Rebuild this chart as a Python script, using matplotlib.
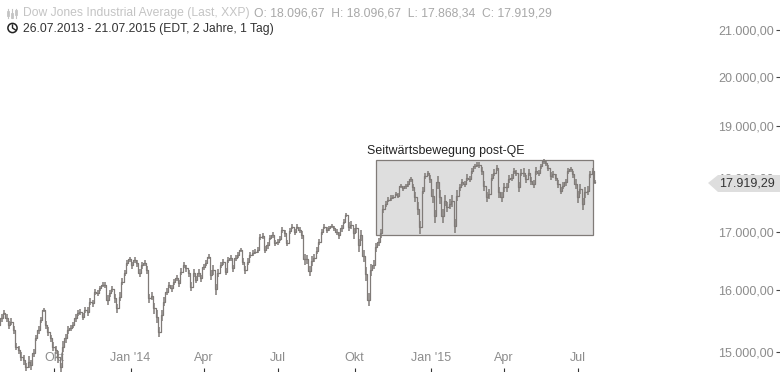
import matplotlib
matplotlib.use('Agg')
import matplotlib.pyplot as plt
import pandas as pd
from matplotlib.patches import Circle, Polygon, Rectangle
from matplotlib.lines import Line2D

plt.rcParams['font.family'] = ['Liberation Sans', 'DejaVu Sans']

# Dow Jones, every 3 days
start_date = '2013-07-26'
close_values = [
    15430, 15540, 15630, 15540, 15430, 15485, 15349, 15085, 15030, 14925,
    14870, 14770, 14845, 14795, 14980, 15215, 15349, 15510, 15673, 15430,
    15320, 15215, 15085, 15030, 14925, 14760, 15085, 15215, 15349, 15375,
    15430, 15540, 15620, 15645, 15565, 15673, 15645, 15810, 15783, 15977,
    15950, 16033, 16090, 16090, 15838, 15950, 16015, 15865, 15700, 15893,
    16145, 16285, 16455, 16525, 16425, 16515, 16455, 16285, 16425, 16455,
    16343, 15865, 15905, 15700, 15565, 15320, 15590, 15810, 15977, 16090,
    16033, 16145, 16200, 16117, 16315, 16425, 16370, 16285, 16060, 16285,
    16173, 16285, 16200, 16400, 16455, 16570, 16260, 16343, 16015, 16285,
    16425, 16485, 16315, 16515, 16545, 16370, 16545, 16600, 16689, 16485,
    16343, 16485, 16600, 16630, 16660, 16689, 16918, 16930, 16688, 16766,
    16905, 16948, 16808, 16827, 16887, 17038, 16978, 16808, 17026, 17099,
    17008, 17099, 17038, 16948, 16524, 16524, 16325, 16494, 16555, 16675,
    16827, 17008, 17099, 17038, 17069, 17111, 17069, 17008, 16948, 17069,
    17190, 17311, 17099, 17129, 16978, 17069, 16766, 16948, 16585, 16280,
    15840, 16345, 16433, 16735, 16827, 16978, 17420, 17512, 17591, 17615,
    17634, 17695, 17664, 17847, 17798, 17835, 17878, 17969, 17817, 17634,
    17420, 17084, 17756, 18030, 18079, 17969, 17664, 17286, 17908, 17634,
    17286, 17572, 17450, 17512, 17572, 17115, 17664, 17817, 17908, 17878,
    18000, 17969, 18121, 18213, 18243, 18243, 18121, 17847, 17634, 17695,
    18000, 18091, 18183, 17725, 17634, 17817, 17817, 17969, 18000, 18121,
    18091, 17817, 18091, 18091, 17969, 18091, 17939, 17878, 18121, 18091,
    18213, 18305, 18274, 18183, 18030, 18061, 18000, 17878, 17756, 17847,
    17908, 18121, 18152, 18061, 17878, 17634, 17786, 17512, 17725, 17756,
    18061, 18121, 17919,
]
# half of the day's high-low stick around each value
stick_sizes = [
    60, 70, 40, 60, 70, 60, 70, 50, 60, 70,
    80, 60, 90, 80, 60, 50, 60, 50, 40, 70,
    70, 60, 70, 60, 90, 70, 90, 70, 60, 50,
    50, 60, 50, 50, 60, 50, 70, 60, 60, 50,
    50, 40, 40, 50, 80, 60, 50, 70, 70, 70,
    60, 50, 50, 40, 60, 50, 60, 70, 60, 50,
    70, 80, 70, 90, 110, 80, 90, 70, 60, 50,
    60, 50, 50, 60, 60, 50, 60, 60, 80, 70,
    60, 70, 60, 50, 50, 40, 90, 80, 90, 70,
    50, 50, 60, 50, 50, 60, 50, 50, 40, 60,
    70, 60, 50, 50, 50, 50, 50, 50, 60, 60,
    50, 50, 60, 50, 50, 50, 60, 60, 50, 40,
    50, 50, 50, 70, 90, 80, 90, 80, 70, 60,
    50, 50, 40, 50, 50, 40, 50, 50, 60, 60,
    50, 40, 80, 70, 90, 80, 110, 100, 100, 120,
    110, 100, 80, 80, 70, 80, 70, 60, 50, 50,
    40, 40, 50, 40, 50, 50, 50, 50, 70, 90,
    120, 120, 70, 50, 50, 80, 130, 120, 130, 130,
    130, 100, 90, 90, 110, 130, 100, 70, 60, 60,
    60, 60, 50, 50, 50, 60, 70, 90, 90, 90,
    70, 70, 60, 100, 90, 80, 80, 70, 70, 60,
    60, 90, 70, 80, 70, 70, 70, 70, 70, 60,
    50, 50, 50, 60, 70, 70, 70, 70, 70, 70,
    60, 50, 50, 70, 90, 110, 100, 110, 100, 90,
    70, 50, 40,
]
dates = pd.date_range(start_date, periods=len(close_values), freq='3D')
stick_low = [v - s for v, s in zip(close_values, stick_sizes)]
stick_high = [v + s for v, s in zip(close_values, stick_sizes)]

y_ticks = [15000, 16000, 17000, 18000, 19000, 20000, 21000]
y_labels = ['15.000,00', '16.000,00', '17.000,00', '18.000,00',
            '19.000,00', '20.000,00', '21.000,00']
x_ticks = pd.to_datetime(['2013-10-01', '2014-01-02', '2014-04-01', '2014-07-01',
                          '2014-10-02', '2015-01-03', '2015-04-02', '2015-07-01'])
x_labels = ['Okt', "Jan '14", 'Apr', 'Jul', 'Okt', "Jan '15", 'Apr', 'Jul']

box_start = pd.Timestamp('2014-10-28')
box_end = pd.Timestamp('2015-07-19')
box_low = 16950
box_high = 18325
last_value = 17919.29

line_color = '#807b78'
label_color = '#8c8c8c'

fig = plt.figure(figsize=(7.8, 3.72), dpi=100)
ax = fig.add_axes([0, 0, 1, 1])
ax.set_yscale('log')
ax.set_xlim(pd.Timestamp('2013-07-27'), pd.Timestamp('2016-03-03'))
ax.set_ylim(14689, 21670)
for s in ax.spines.values():
    s.set_visible(False)

ax.add_patch(Rectangle((box_start, box_low), box_end - box_start, box_high - box_low,
                       facecolor='#dedede', edgecolor=line_color, linewidth=0.9, zorder=1))
ax.plot(dates, close_values, color=line_color, linewidth=0.9, drawstyle='steps-mid', zorder=2)
ax.vlines(dates, stick_low, stick_high, color=line_color, linewidth=1.1, zorder=2)
ax.text(box_start - pd.Timedelta(days=11), box_high + 60, 'Seitwärtsbewegung post-QE',
        fontsize=8.9, color='#222222', va='bottom')

# ticks sit inside the figure, so the labels get a negative pad
ax.yaxis.tick_right()
ax.set_yticks(y_ticks, y_labels)
ax.yaxis.set_minor_locator(matplotlib.ticker.NullLocator())
ax.yaxis.set_minor_formatter(matplotlib.ticker.NullFormatter())
ax.tick_params(axis='y', direction='in', length=3, width=0.8, color='#444444',
               labelcolor=label_color, labelsize=9, pad=-4.5)
for lab in ax.get_yticklabels():
    lab.set_ha('right')

ax.set_xticks(x_ticks, x_labels)
ax.tick_params(axis='x', direction='in', length=3, width=0.8, color='#333333',
               labelcolor=label_color, labelsize=9, pad=-5.5)
for lab in ax.get_xticklabels():
    lab.set_va('bottom')


def px(x, y):
    return x / 780, 1 - y / 372


# last price tag
tag = [px(708, 183), px(718, 175), px(780, 175), px(780, 192), px(718, 192)]
ax.add_patch(Polygon(tag, transform=ax.transAxes, facecolor='#dedede', edgecolor='none', zorder=5))
ax.text(*px(775, 183.5), f'{last_value:,.2f}'.replace(',', 'X').replace('.', ',').replace('X', '.'),
        transform=ax.transAxes, ha='right', va='center', fontsize=9, color='#333333', zorder=6)

# header
ax.text(*px(23, 13), 'Dow Jones Industrial Average (Last, XXP)', transform=ax.transAxes,
        fontsize=8.7, color='#c4c4c4', va='center')
ax.text(*px(254, 13), 'O: 18.096,67  H: 18.096,67  L: 17.868,34  C: 17.919,29',
        transform=ax.transAxes, fontsize=8.7, color='#a8a8a8', va='center')
ax.text(*px(23, 29), '26.07.2013 - 21.07.2015 (EDT, 2 Jahre, 1 Tag)', transform=ax.transAxes,
        fontsize=8.7, color='#333333', va='center')

# header icons
for bar_x, y0, y1, body in [(8, 9, 18, 13), (12, 9, 18, 15), (16, 9, 18, 12)]:
    ax.add_line(Line2D(*zip(px(bar_x, y0), px(bar_x, y1)), transform=ax.transAxes,
                       color='#c4c4c4', linewidth=0.8))
    ax.add_line(Line2D(*zip(px(bar_x, body - 1.5), px(bar_x, body + 1.5)), transform=ax.transAxes,
                       color='#c4c4c4', linewidth=2))
ax.add_patch(Circle((12.5, 372 - 28), 4.6, transform=None, fill=False, edgecolor='#222222', linewidth=1.1))
ax.add_line(Line2D(*zip(px(12.5, 25), px(12.5, 28), px(15.5, 30)), transform=ax.transAxes,
                   color='#222222', linewidth=1))

fig.savefig('out.png', dpi=100)
